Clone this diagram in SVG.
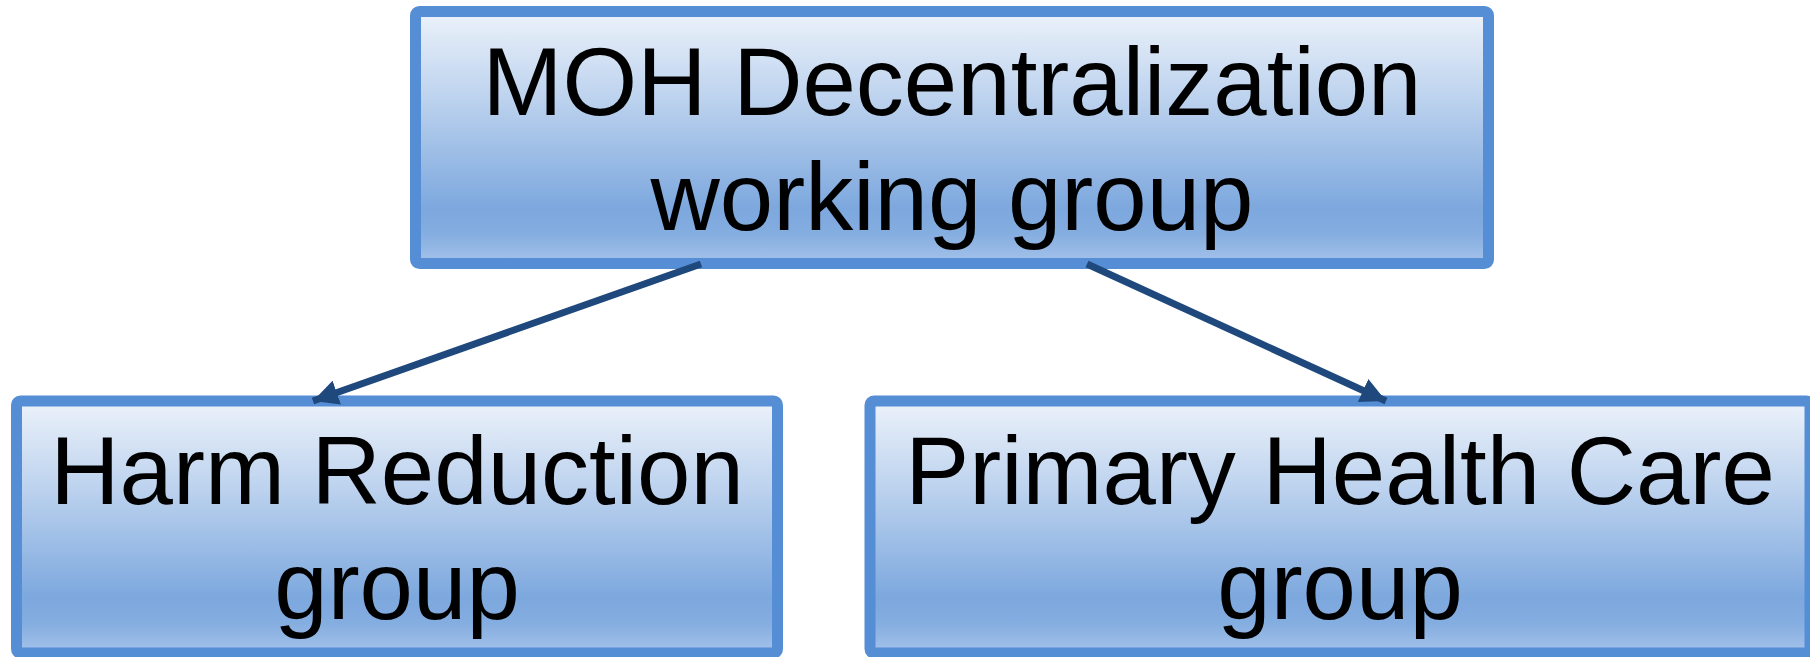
<svg xmlns="http://www.w3.org/2000/svg" width="1810" height="657" viewBox="0 0 1810 657">
  <defs>
    <linearGradient id="boxFill" x1="0" y1="0" x2="0" y2="1">
      <stop offset="0" stop-color="#ecf2fa"/>
      <stop offset="0.35" stop-color="#bcd2ee"/>
      <stop offset="0.78" stop-color="#7da8de"/>
      <stop offset="0.88" stop-color="#84ade0"/>
      <stop offset="1" stop-color="#a5c3ea"/>
    </linearGradient>
    <marker id="arrowHead" viewBox="0 0 10 10" refX="10" refY="5" markerWidth="3.6" markerHeight="3.6" orient="auto" markerUnits="strokeWidth">
      <path d="M0,0 L10,5 L0,10 z" fill="#1f497d"/>
    </marker>
  </defs>
  <style>
    .box { fill: url(#boxFill); stroke: #558ed5; stroke-width: 11; }
    .label { font-family: "Liberation Sans", Arial, sans-serif; font-size: 96px; fill: #000; text-anchor: middle; }
    .link { stroke: #1f497d; stroke-width: 7; fill: none; marker-end: url(#arrowHead); }
  </style>

  <g id="node-moh">
    <rect class="box" x="415.5" y="11.5" width="1073" height="252" rx="4"/>
    <text class="label" x="952" y="115">MOH Decentralization</text>
    <text class="label" x="952" y="230">working group</text>
  </g>

  <g id="node-harm">
    <rect class="box" x="16.5" y="401" width="761" height="252" rx="4"/>
    <text class="label" x="397" y="504">Harm Reduction</text>
    <text class="label" x="397" y="619">group</text>
  </g>

  <g id="node-phc">
    <rect class="box" x="870" y="401" width="940" height="252" rx="4"/>
    <text class="label" x="1340" y="504">Primary Health Care</text>
    <text class="label" x="1340" y="619">group</text>
  </g>

  <!-- connectors sit above the boxes so the arrowheads overlap the borders -->
  <g id="connectors">
    <line class="link" x1="701" y1="264" x2="313" y2="401"/>
    <line class="link" x1="1087" y1="264" x2="1386" y2="401"/>
  </g>
</svg>
